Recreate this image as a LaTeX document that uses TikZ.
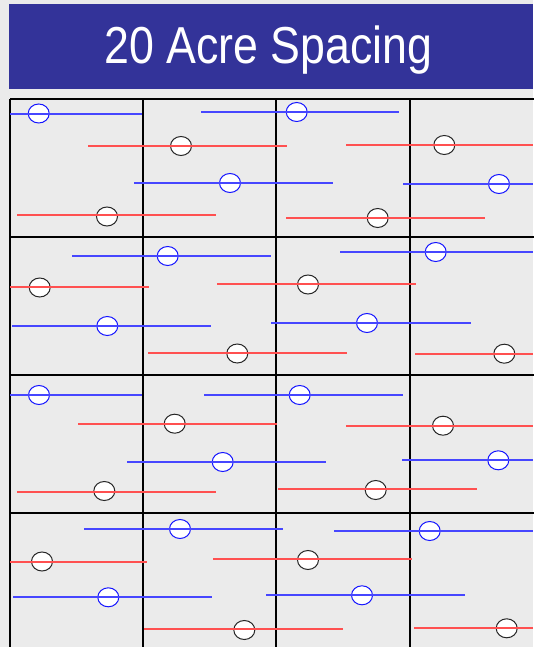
\documentclass[tikz,border=0pt]{standalone}
\usepackage{fontspec}
\newfontfamily\titlefont[FakeStretch=0.86]{Liberation Sans}
\definecolor{bgc}{RGB}{235,235,235}
\definecolor{barc}{RGB}{51,51,153}
\definecolor{bluel}{RGB}{70,70,255}
\definecolor{redl}{RGB}{255,80,80}
\definecolor{bluee}{RGB}{20,20,255}
\usetikzlibrary{shapes.geometric}
\tikzset{
  gridline/.style={line width=2.2pt, black},
  bwell/.style={ellipse, draw=bluee, fill=white, line width=1pt, minimum width=21pt, minimum height=19pt, inner sep=0pt},
  rwell/.style={ellipse, draw=black!85, fill=white, line width=1pt, minimum width=21pt, minimum height=19pt, inner sep=0pt},
  bline/.style={bluel, line width=1.4pt},
  rline/.style={redl, line width=1.4pt},
}
\begin{document}
\begin{tikzpicture}[x=1pt,y=-1pt]
\useasboundingbox (0,0) rectangle (533,647);
\fill[bgc] (0,0) rectangle (533,647);
% title bar
\fill[barc] (8.7,4) rectangle (533,89);
\node[anchor=base, text=white, inner sep=0pt, font=\titlefont\fontsize{52}{60}\selectfont] (title) at (268.5,64) {20 Acre Spacing};
% grid
\foreach \gx in {10,143,276,410} \draw[gridline] (\gx,99) -- (\gx,648);
\foreach \gy in {99,237,375,513} \draw[gridline] (10,\gy) -- (534,\gy);
% wells
\foreach \cx/\cy [count=\i] in {38.7/113.5,230/183,296.7/112,499/184,167.7/256,107.3/326,435.7/252,367/323,39/395,299.7/395,222.7/462,498.3/460.3,180/529,108.3/597.3,429.7/531,362/595.3}
  \node[bwell] (b\i) at (\cx,\cy) {};
\foreach \cx/\cy [count=\i] in {181/146,107/216.5,444.3/145,377.7/218,39.7/287.5,237.3/353.5,308/284.5,504.3/353.7,174.7/423.7,104.3/491,443/425.7,375.7/490,42/561.5,244.3/630,308/560,506.7/628.3}
  \node[rwell] (r\i) at (\cx,\cy) {};
% lines
\begin{scope}
\clip (10,99) rectangle (533,647);
\foreach \xa/\xb/\yy in {10/142/114,134/333/183,201/399/112,403/533/184,72/271/256,12/211/326,340/533/252,271/471/323,10/142/395,204/403/395,127/326/462,402/533/460,84/283/529,13/212/597,334/533/531,266/465/595}
  \draw[bline] (\xa,\yy) -- (\xb,\yy);
\foreach \xa/\xb/\yy in {88/287/146,17/216/215,346/533/145,286/485/218,10/149/287,148/347/353,217/416/284,415/533/354,78/277/424,17/216/492,346/533/426,278/477/489,10/147/562,144/343/629,213/412/559,414/533/628}
  \draw[rline] (\xa,\yy) -- (\xb,\yy);
\end{scope}
\end{tikzpicture}
\end{document}
